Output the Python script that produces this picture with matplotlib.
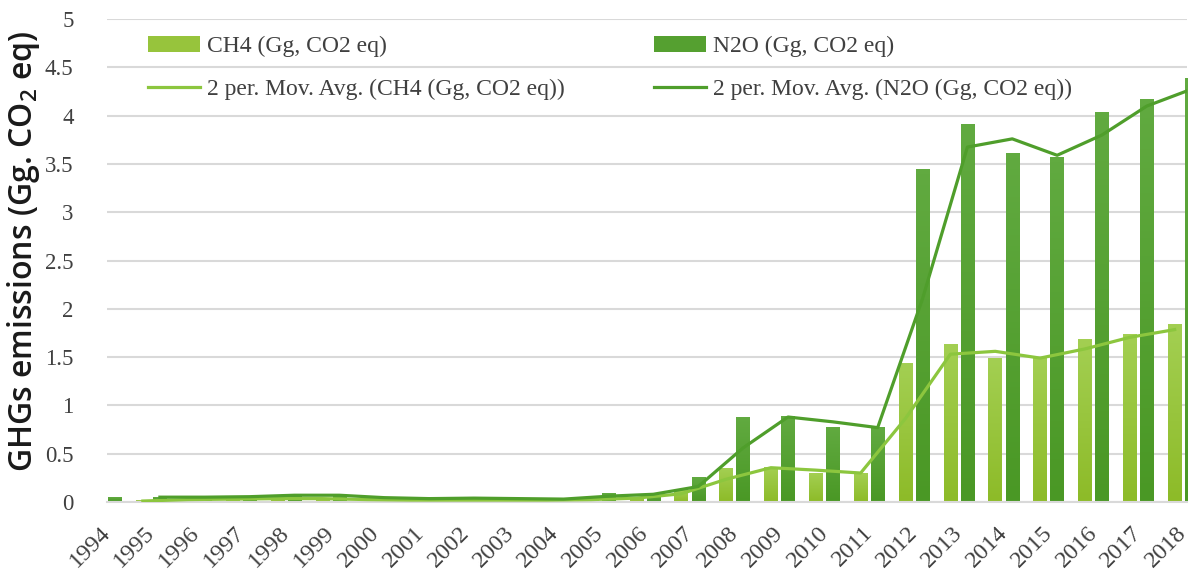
import numpy as np
import matplotlib
matplotlib.use("Agg")
import matplotlib.pyplot as plt
from matplotlib.colors import LinearSegmentedColormap

# Data
years = list(range(1994, 2019))
ch4 = [0.00, 0.02, 0.03, 0.03, 0.04, 0.03, 0.02, 0.02, 0.02, 0.02, 0.02,
       0.03, 0.05, 0.12, 0.35, 0.36, 0.30, 0.30, 1.43, 1.63, 1.49, 1.49,
       1.68, 1.73, 1.84]
n2o = [0.05, 0.05, 0.05, 0.06, 0.08, 0.06, 0.03, 0.04, 0.04, 0.03, 0.03,
       0.09, 0.07, 0.25, 0.87, 0.89, 0.77, 0.77, 3.44, 3.91, 3.61, 3.57,
       4.03, 4.17, 4.38]
yticks = [0, 0.5, 1, 1.5, 2, 2.5, 3, 3.5, 4, 4.5, 5]

ch4 = np.array(ch4)
n2o = np.array(n2o)
x = np.arange(len(years))

# 2 period moving averages (first point undefined)
ch4_ma = (ch4[1:] + ch4[:-1]) / 2
n2o_ma = (n2o[1:] + n2o[:-1]) / 2

fig = plt.figure(figsize=(11.95, 5.79), dpi=100)
ax = fig.add_axes([0.0895, 0.133, 0.904, 0.834])

w = 0.30
off_ch4 = -0.20
off_n2o = 0.18

light = LinearSegmentedColormap.from_list("light", ["#8dbb28", "#a3cf52"])
dark = LinearSegmentedColormap.from_list("dark", ["#4a9825", "#61aa40"])

bars1 = ax.bar(x + off_ch4, ch4, w, color="#97c43c", zorder=2, label="CH4 (Gg, CO2 eq)")
bars2 = ax.bar(x + off_n2o, n2o, w, color="#55a030", zorder=2, label="N2O (Gg, CO2 eq)")

# vertical gradient on each bar (image covers the bar rectangle exactly)
grad = np.linspace(0, 1, 64).reshape(-1, 1)
for bars, cmap in [(bars1, light), (bars2, dark)]:
    for b in bars:
        x0, y0 = b.get_x(), b.get_y()
        bw, bh = b.get_width(), b.get_height()
        if bh <= 0:
            continue
        ax.imshow(grad, cmap=cmap, origin="lower", aspect="auto",
                  extent=[x0, x0 + bw, y0, y0 + bh], zorder=2.1)

ax.plot(x[1:] + off_ch4, ch4_ma, color="#8cc63e", lw=2.3, zorder=3,
        label="2 per. Mov. Avg. (CH4 (Gg, CO2 eq))")
ax.plot(x[1:] + off_n2o, n2o_ma, color="#4f9e2b", lw=2.3, zorder=3,
        label="2 per. Mov. Avg. (N2O (Gg, CO2 eq))")

ax.set_xlim(0.03, 24.08)
ax.set_ylim(0, 5)
ax.set_yticks(yticks)
ax.set_yticklabels([f"{t:g}" for t in yticks], family="Liberation Serif",
                   fontsize=16.5, color="#404040")
ax.set_xticks(x)
ax.set_xticklabels([str(y) for y in years], rotation=45, ha="right",
                   va="center", rotation_mode="anchor", family="Liberation Serif",
                   fontsize=17.5, color="#404040")
ax.tick_params(axis="y", length=0, pad=24)
ax.tick_params(axis="x", length=0, pad=20)

ax.grid(axis="y", color="#d9d9d9", lw=1.5, zorder=0)
ax.set_axisbelow(True)
for s in ["top", "right", "left"]:
    ax.spines[s].set_visible(False)
ax.spines["bottom"].set_color("#d9d9d9")
ax.spines["bottom"].set_linewidth(1.5)

ax.set_ylabel(r"GHGs emissions (Gg. CO$_\mathregular{2}$ eq)", family="Open Sans",
              fontweight="semibold", fontsize=23, color="#1a1a1a")
ax.yaxis.set_label_coords(-0.060, 0.52)

handles, labels = ax.get_legend_handles_labels()
# rows: bars on top, averages below
h = [handles[2], handles[0], handles[3], handles[1]]
l = [labels[2], labels[0], labels[3], labels[1]]
leg = ax.legend(h, l, ncol=2, loc="upper left", bbox_to_anchor=(0.018, 1.01),
                frameon=False, prop={"family": "Liberation Serif", "size": 17},
                handlelength=2.2, handletextpad=0.3, columnspacing=3.8,
                labelspacing=0.9)
for t in leg.get_texts():
    t.set_color("#404040")

fig.savefig("out.png", dpi=100)
